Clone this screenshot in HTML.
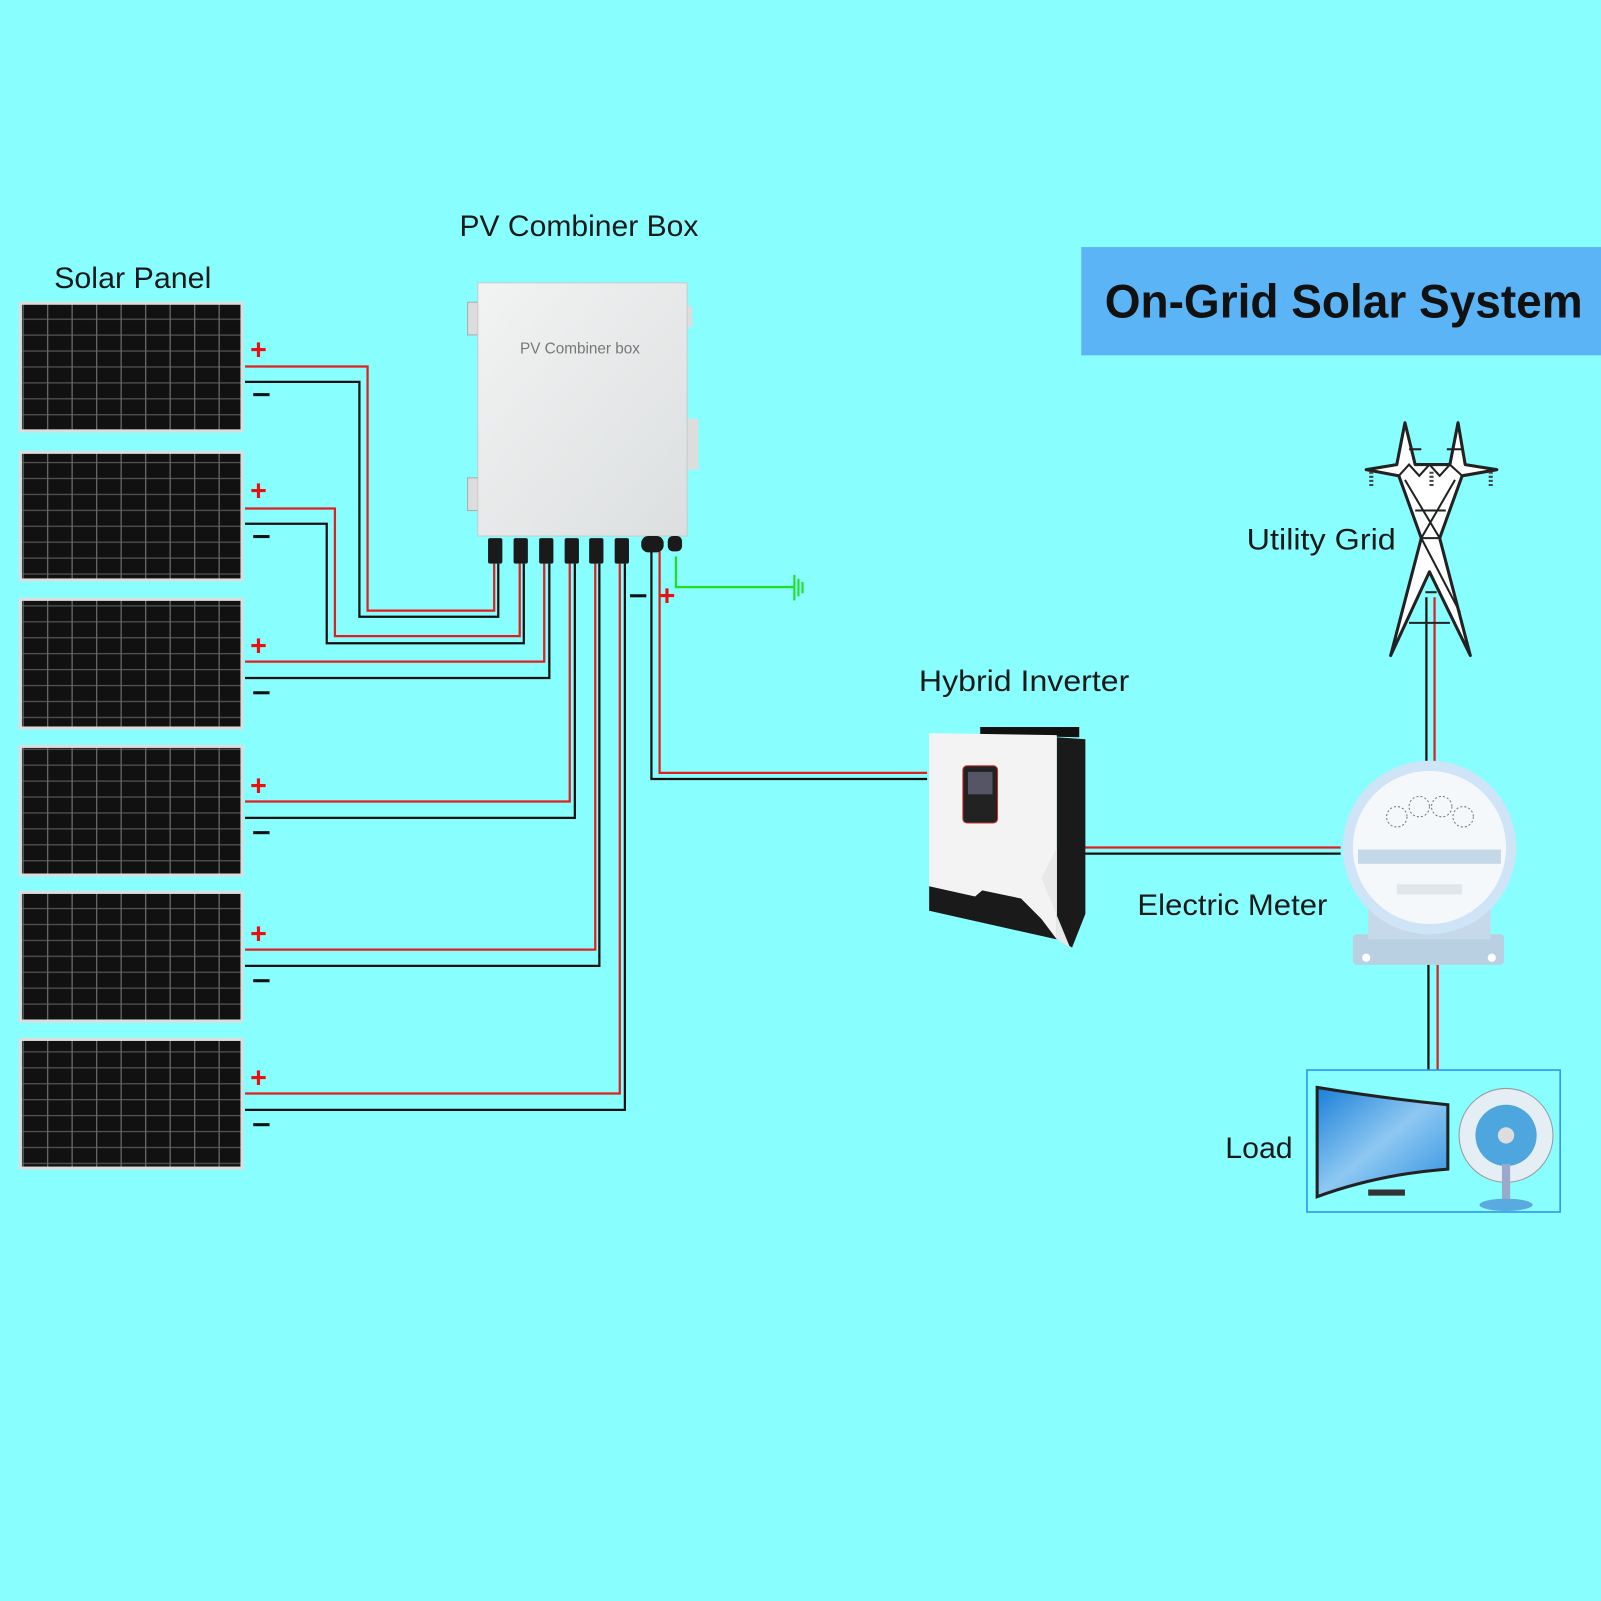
<!DOCTYPE html>
<html><head><meta charset="utf-8"><style>
html,body{margin:0;padding:0;background:#88fefe;}
svg{display:block}
text{font-family:"Liberation Sans","DejaVu Sans",sans-serif;}
</style></head><body>
<svg width="1601" height="1601" viewBox="0 0 1568 1568" xmlns="http://www.w3.org/2000/svg">
<defs>
<pattern id="cells" x="22" y="0" width="24" height="15.6" patternUnits="userSpaceOnUse">
<rect width="24" height="15.6" fill="#111"/>
<rect x="0" y="0" width="24" height="1.2" fill="#555"/>
<rect x="0" y="0" width="1.3" height="15.6" fill="#666"/>
</pattern>
<linearGradient id="box" x1="0" y1="0" x2="1" y2="1"><stop offset="0" stop-color="#f2f3f3"/><stop offset="1" stop-color="#dcdfe0"/></linearGradient>
<linearGradient id="sky" x1="0" y1="0" x2="1" y2="1"><stop offset="0" stop-color="#1a7fd8"/><stop offset="0.5" stop-color="#8ec8f2"/><stop offset="1" stop-color="#2d8fe0"/></linearGradient>
</defs>
<rect width="1568" height="1568" fill="#88fefe"/>

<!-- title -->
<rect x="1059" y="242" width="509" height="106" fill="#5ab4f5"/>
<text x="1082" y="311" font-size="46" font-weight="bold" fill="#111" textLength="468" lengthAdjust="spacingAndGlyphs">On-Grid Solar System</text>

<!-- labels -->
<g font-size="29" fill="#1a1a1a" text-anchor="middle">
<text x="130" y="282" textLength="154" lengthAdjust="spacingAndGlyphs">Solar Panel</text>
<text x="567" y="231" textLength="234" lengthAdjust="spacingAndGlyphs">PV Combiner Box</text>
<text x="1003" y="677" textLength="206" lengthAdjust="spacingAndGlyphs">Hybrid Inverter</text>
<text x="1294" y="538" textLength="146" lengthAdjust="spacingAndGlyphs">Utility Grid</text>
<text x="1207" y="896" textLength="186" lengthAdjust="spacingAndGlyphs">Electric Meter</text>
<text x="1233" y="1134" textLength="66" lengthAdjust="spacingAndGlyphs">Load</text>
</g>

<!-- panels -->
<g stroke="#ddd" stroke-width="3">
<rect x="20" y="297" width="217" height="125" fill="url(#cells)"/>
<rect x="20" y="443" width="217" height="125" fill="url(#cells)"/>
<rect x="20" y="587" width="217" height="126" fill="url(#cells)"/>
<rect x="20" y="731" width="217" height="126" fill="url(#cells)"/>
<rect x="20" y="874" width="217" height="126" fill="url(#cells)"/>
<rect x="20" y="1018" width="217" height="126" fill="url(#cells)"/>
</g>

<!-- +/- -->
<g font-size="28" font-weight="bold" fill="#e81010">
<text x="245" y="352">+</text><text x="245" y="490">+</text><text x="245" y="642">+</text><text x="245" y="779">+</text><text x="245" y="924">+</text><text x="245" y="1065">+</text>
<text x="645" y="593">+</text>
</g>
<g fill="#111">
<rect x="248" y="385" width="16" height="3"/><rect x="248" y="524" width="16" height="3"/><rect x="248" y="677" width="16" height="3"/><rect x="248" y="814" width="16" height="3"/><rect x="248" y="959" width="16" height="3"/><rect x="248" y="1100" width="16" height="3"/>
<rect x="617" y="582" width="16" height="3"/>
</g>

<!-- wires -->
<g fill="none" stroke-width="2.2">
<polyline stroke="#e02020" points="240,359 360,359 360,598 484,598 484,552"/>
<polyline stroke="#111" points="240,374 352,374 352,604 488,604 488,552"/>
<polyline stroke="#e02020" points="240,498 328,498 328,623 509,623 509,552"/>
<polyline stroke="#111" points="240,513 320,513 320,630 513,630 513,552"/>
<polyline stroke="#e02020" points="240,648 533,648 533,552"/>
<polyline stroke="#111" points="240,664 538,664 538,552"/>
<polyline stroke="#e02020" points="240,785 558,785 558,552"/>
<polyline stroke="#111" points="240,801 563,801 563,552"/>
<polyline stroke="#e02020" points="240,930 583,930 583,552"/>
<polyline stroke="#111" points="240,946 587,946 587,552"/>
<polyline stroke="#e02020" points="240,1071 607,1071 607,552"/>
<polyline stroke="#111" points="240,1087 612,1087 612,552"/>
<polyline stroke="#111" points="638,540 638,763 908,763"/>
<polyline stroke="#e02020" points="646,540 646,757 908,757"/>
<polyline stroke="#22dd22" points="662,545 662,575 778,575"/>
<polyline stroke="#e02020" points="1062,830 1313,830"/>
<polyline stroke="#111" points="1062,836 1313,836"/>
<polyline stroke="#111" points="1397,585 1397,750"/>
<polyline stroke="#e02020" points="1405,585 1405,750"/>
<polyline stroke="#111" points="1399,945 1399,1048"/>
<polyline stroke="#e02020" points="1408,945 1408,1048"/>
</g>
<g stroke="#22dd22" stroke-width="2"><line x1="778" y1="563" x2="778" y2="588"/><line x1="782" y1="567" x2="782" y2="584"/><line x1="786" y1="570" x2="786" y2="581"/></g>

<!-- combiner box -->
<rect x="458" y="296" width="12" height="32" fill="#ddd" stroke="#aaa"/>
<rect x="458" y="468" width="12" height="32" fill="#ddd" stroke="#aaa"/>
<rect x="672" y="300" width="6" height="20" fill="#ddd"/>
<rect x="672" y="410" width="12" height="50" fill="#ddd"/>
<rect x="468" y="277" width="205" height="248" fill="url(#box)" stroke="#c8cccc"/>
<text x="568" y="346" font-size="15" fill="#777" text-anchor="middle">PV Combiner box</text>
<g fill="#1a1a1a">
<rect x="478" y="527" width="14" height="25" rx="2"/><rect x="503" y="527" width="14" height="25" rx="2"/><rect x="528" y="527" width="14" height="25" rx="2"/><rect x="553" y="527" width="14" height="25" rx="2"/><rect x="577" y="527" width="14" height="25" rx="2"/><rect x="602" y="527" width="14" height="25" rx="2"/>
<rect x="628" y="525" width="22" height="16" rx="7"/><rect x="654" y="525" width="14" height="15" rx="5"/>
</g>

<!-- inverter -->
<polygon points="960,712 1057,712 1057,722 960,720" fill="#111"/>
<polygon points="1035,722 1063,724 1063,895 1050,928 1035,920" fill="#1a1a1a"/>
<polygon points="910,718 1035,720 1035,920 910,890" fill="#f3f3f3"/>
<polygon points="910,868 955,878 962,872 1000,880 1020,900 1035,920 910,892" fill="#1a1a1a"/>
<polygon points="1035,830 1035,920 1048,928 1020,860" fill="#e8e8e8"/>
<rect x="943" y="750" width="34" height="56" rx="4" fill="#222" stroke="#c33" stroke-width="1"/>
<rect x="948" y="756" width="24" height="22" fill="#556"/>

<!-- meter -->
<rect x="1325" y="915" width="148" height="30" rx="4" fill="#b9d0e2"/>
<rect x="1340" y="870" width="120" height="50" fill="#c6d9ea"/>
<circle cx="1400" cy="830" r="85" fill="#cfe4f6"/>
<circle cx="1400" cy="830" r="75" fill="#f4f8fb"/>
<rect x="1330" y="832" width="140" height="14" fill="#c5d8e8"/>
<g fill="none" stroke="#777" stroke-dasharray="2 2"><circle cx="1368" cy="800" r="10"/><circle cx="1390" cy="790" r="10"/><circle cx="1412" cy="790" r="10"/><circle cx="1433" cy="800" r="10"/></g>
<rect x="1368" y="866" width="64" height="10" fill="#e0e6ea"/>
<circle cx="1338" cy="938" r="4" fill="#fff"/><circle cx="1461" cy="938" r="4" fill="#fff"/>

<!-- tower -->
<g fill="#fff" stroke="#222" stroke-width="3" stroke-linejoin="round">
<polygon points="1376,414 1386,455 1420,455 1428,414 1435,455 1466,460 1432,466 1410,527 1440,642 1400,560 1362,642 1392,527 1370,466 1338,460 1368,455"/>
</g>
<g stroke="#222" stroke-width="2" fill="none">
<polyline points="1370,466 1380,455 1390,466 1400,455 1410,466 1420,455 1432,466"/>
<polyline points="1376,470 1410,527 1392,527 1425,470"/>
<polyline points="1392,527 1430,600 M1410,527 1372,600"/>
<line x1="1380" y1="440" x2="1392" y2="440"/><line x1="1417" y1="440" x2="1432" y2="440"/>
<line x1="1396" y1="580" x2="1407" y2="580"/>
<line x1="1386" y1="500" x2="1416" y2="500"/><line x1="1380" y1="610" x2="1420" y2="610"/>
</g>
<g stroke="#444" stroke-width="4" stroke-dasharray="2 2"><line x1="1343" y1="462" x2="1343" y2="478"/><line x1="1402" y1="462" x2="1402" y2="478"/><line x1="1460" y1="462" x2="1460" y2="478"/></g>

<!-- load -->
<rect x="1280" y="1048" width="248" height="139" fill="#88fefe" stroke="#2f8ff0" stroke-width="1.5"/>
<path d="M1290,1065 Q1350,1075 1418,1082 L1418,1145 Q1350,1150 1290,1172 Z" fill="url(#sky)" stroke="#222" stroke-width="3"/>
<rect x="1340" y="1165" width="36" height="6" fill="#333"/>
<circle cx="1475" cy="1112" r="46" fill="#e4eef4" stroke="#999"/>
<circle cx="1475" cy="1112" r="30" fill="#4ea6df"/>
<circle cx="1475" cy="1112" r="8" fill="#ddd"/>
<rect x="1471" y="1140" width="8" height="36" fill="#9ac"/>
<ellipse cx="1475" cy="1180" rx="26" ry="6" fill="#5aa9df"/>
</svg>
</body></html>
